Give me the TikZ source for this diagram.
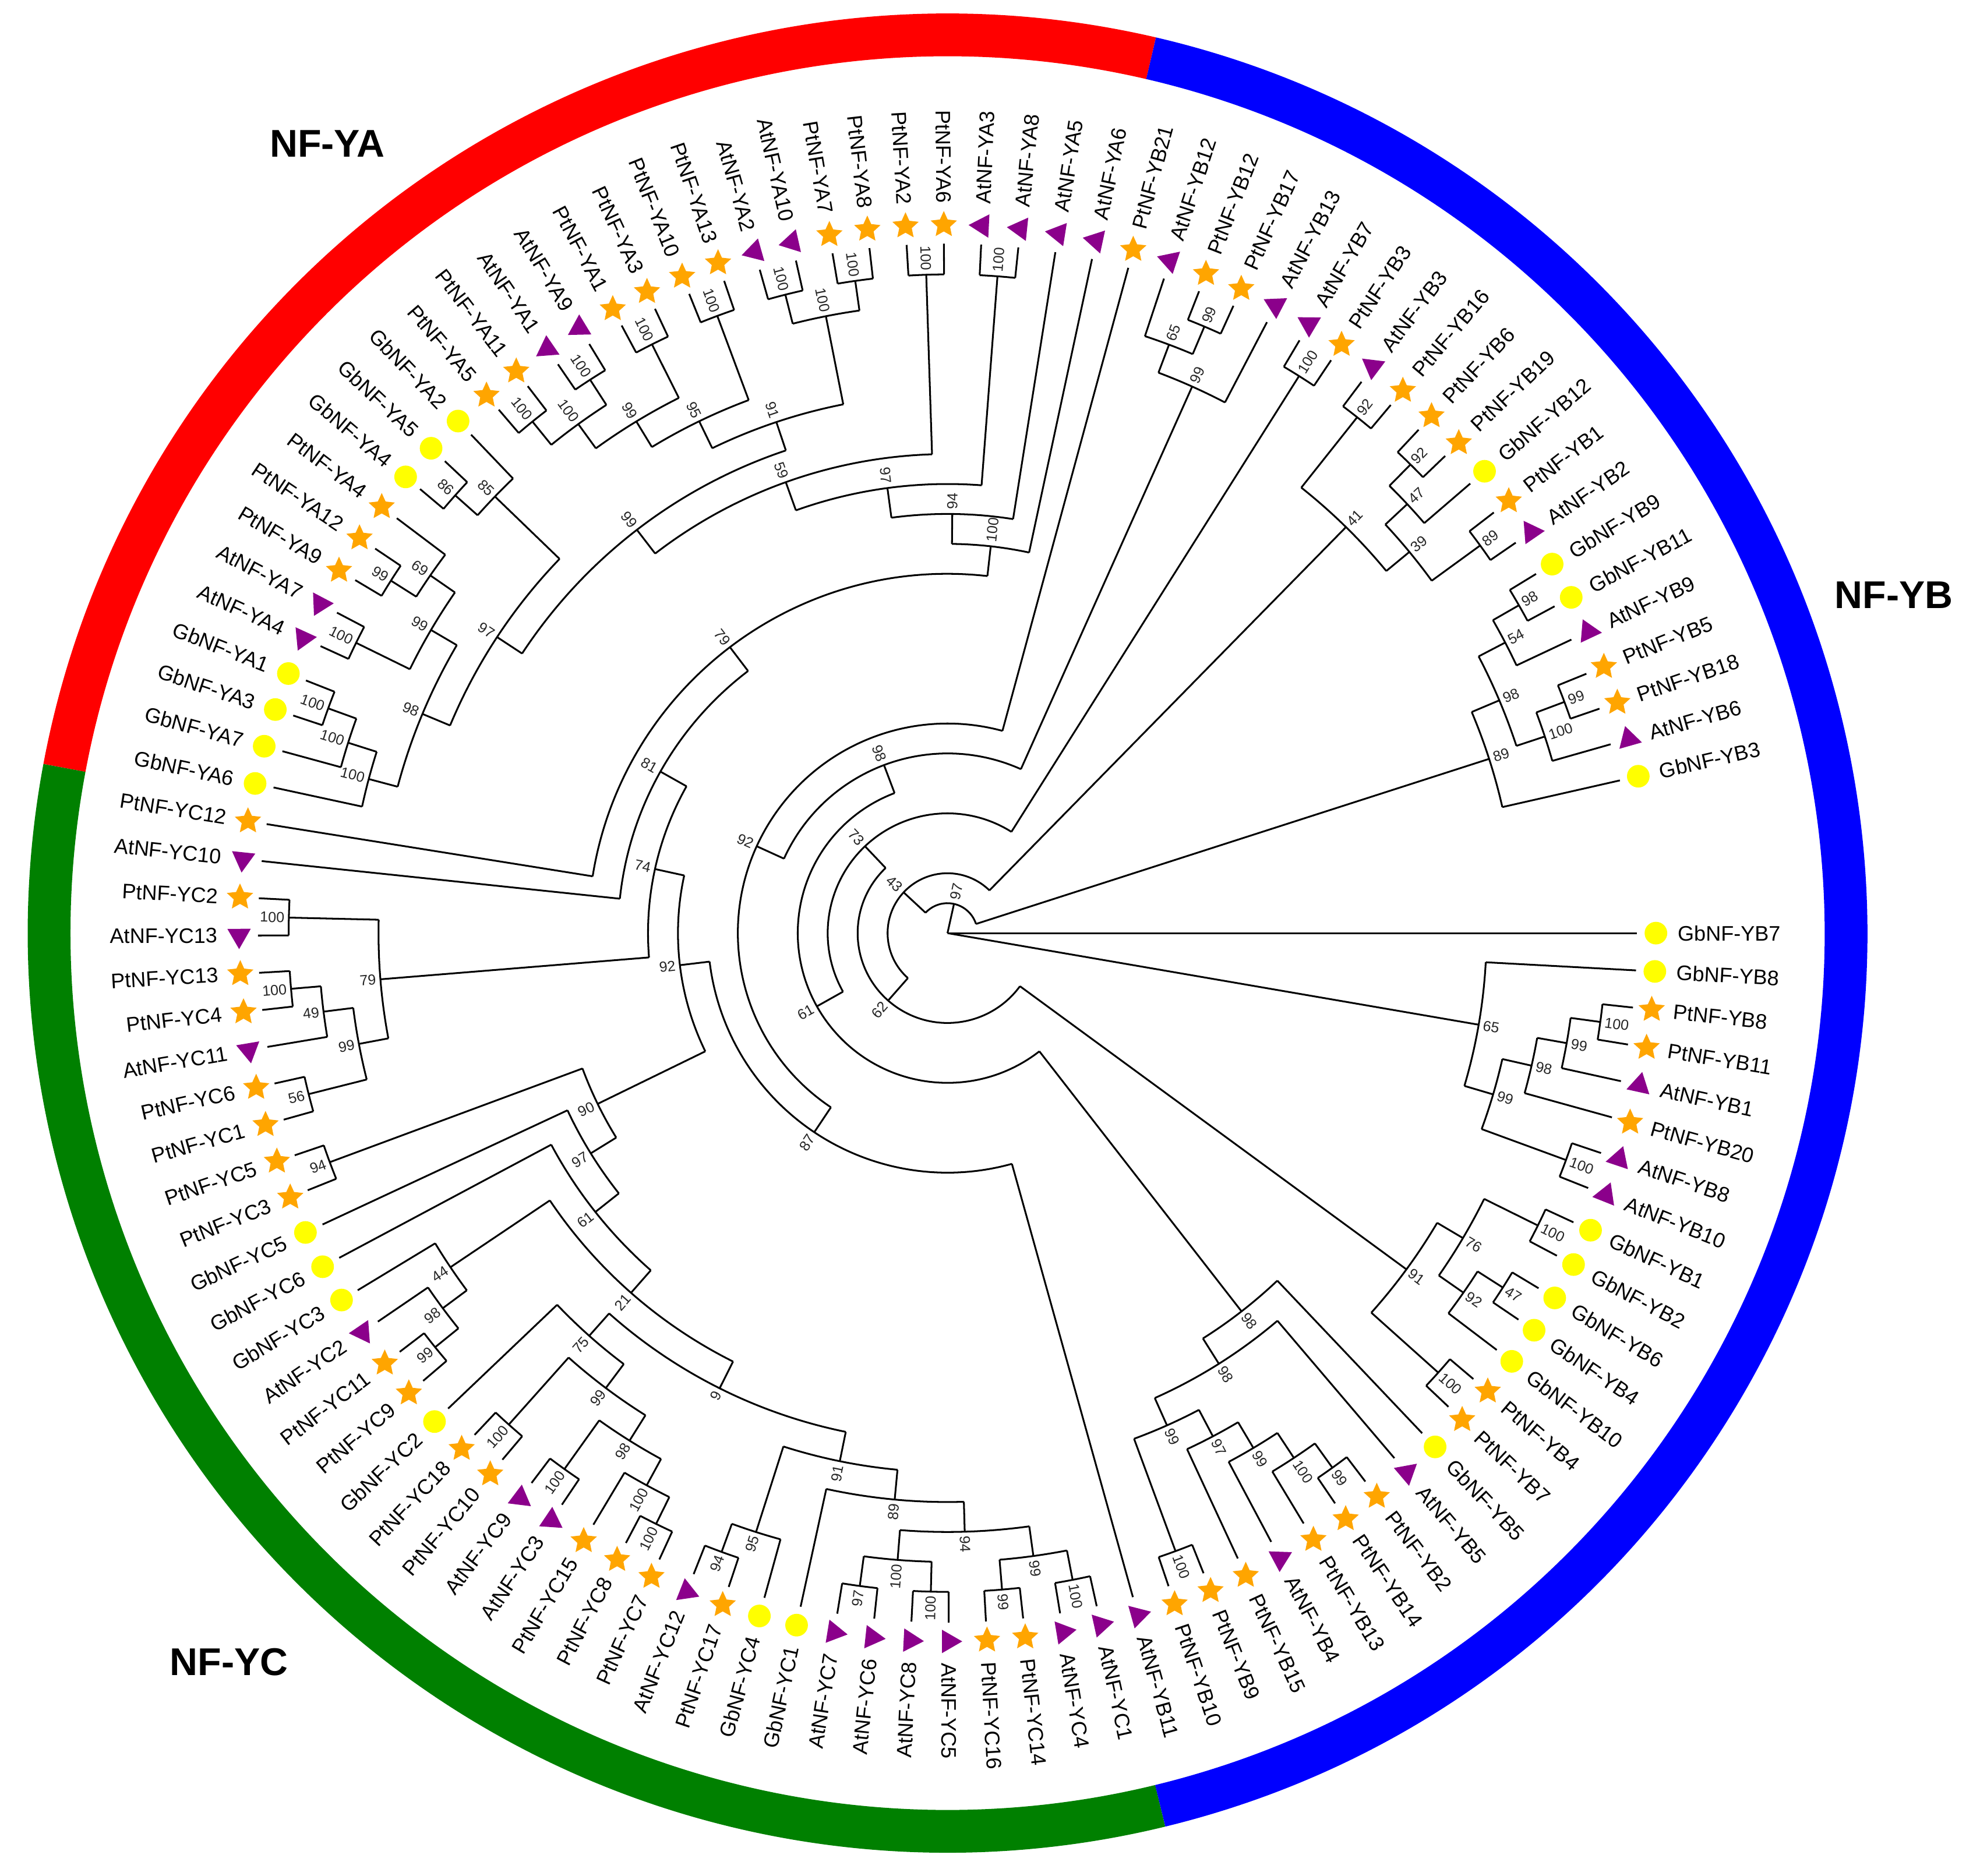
\documentclass[tikz,border=0pt]{standalone}
\usepackage{fontspec}
\setmainfont{Liberation Sans}
\usetikzlibrary{shapes.geometric}
\definecolor{ringred}{RGB}{255,0,0}
\definecolor{ringblue}{RGB}{0,0,255}
\definecolor{ringgreen}{RGB}{0,128,0}
\definecolor{mkyellow}{RGB}{255,255,0}
\definecolor{mkorange}{RGB}{255,165,0}
\definecolor{mkpurple}{RGB}{139,0,139}
\tikzset{
 br/.style={line width=0.8pt, black},
 lbl/.style={font=\fontsize{9.5}{11}\selectfont, inner sep=0pt},
 bs/.style={font=\fontsize{6.6}{8}\selectfont, inner sep=0.4pt, text=black!85},
 mkGb/.style={circle, fill=mkyellow, minimum size=0.36cm, inner sep=0pt},
 mkPt/.style={star, star points=5, star point ratio=2.1, fill=mkorange, minimum size=0.44cm, inner sep=0pt},
 mkAt/.style={regular polygon, regular polygon sides=3, fill=mkpurple, minimum size=0.43cm, inner sep=0pt, rotate=#1},
 grp/.style={font=\bfseries\fontsize{17.5}{20}\selectfont, inner sep=0pt},
 ring/.style={line width=0.68cm},
}
\newcommand\lf[4]{%
  \pgfmathsetmacro\lfA{-3.1*#1}%
  \pgfmathsetmacro\lfR{23.8*#2}%
  \draw[br] (\lfA:\lfR) -- (\lfA:548);
  \node[mk#3=\lfA] (m#1) at (\lfA:563) {};
  \pgfmathtruncatemacro\lfS{cos(\lfA)>=0 ? 1 : 0}%
  \ifnum\lfS=1
    \node[lbl, anchor=west, rotate=\lfA] (t#1) at (\lfA:580) {#4};
  \else
    \pgfmathsetmacro\lfB{\lfA+180}%
    \node[lbl, anchor=east, rotate=\lfB] (t#1) at (\lfA:580) {#4};
  \fi
}
\newcommand\cl[5]{%
  \pgfmathsetmacro\clA{-3.1*(#1)}%
  \pgfmathsetmacro\clB{-3.1*(#2)}%
  \pgfmathsetmacro\clM{(\clA+\clB)/2}%
  \pgfmathsetmacro\clR{23.8*#3}%
  \pgfmathsetmacro\clP{23.8*#4}%
  \draw[br] (\clA:\clR) arc[start angle=\clA, end angle=\clB, radius=\clR];
  \draw[br] (\clM:\clP) -- (\clM:\clR);
  \pgfmathsetmacro\clL{\clR+2.5}%
  \pgfmathtruncatemacro\clS{cos(\clM)>=0 ? 1 : 0}%
  \ifnum\clS=1
    \node[bs, anchor=west, rotate=\clM] at (\clM:\clL) {#5};
  \else
    \pgfmathsetmacro\clC{\clM+180}%
    \node[bs, anchor=east, rotate=\clC] at (\clM:\clL) {#5};
  \fi
}
\begin{document}
\begin{tikzpicture}[x=0.02cm,y=0.02cm]
\fill[white] (-753,-749.3) rectangle (815,741.7);
\useasboundingbox (-753,-749.3) rectangle (815,741.7);
% ring
\draw[ring, ringred] (76.9:714) arc[start angle=76.9, end angle=169.4, radius=714];
\draw[ring, ringgreen] (169.4:714) arc[start angle=169.4, end angle=283.7, radius=714];
\draw[ring, ringblue] (283.7:714) arc[start angle=283.7, end angle=436.9, radius=714];
\node[grp] (gA) at (-493,627.7) {NF-YA};
\node[grp] (gB) at (752,268.7) {NF-YB};
\node[grp] (gC) at (-571,-579.3) {NF-YC};
% internal nodes
\cl{1}{5.3125}{18}{0}{65}
\cl{4.125}{6.5}{19}{18}{99}
\cl{3.25}{5}{20}{19}{98}
\cl{2.5}{4}{21}{20}{99}
\cl{2}{3}{22}{21}{100}
\cl{6}{7}{22}{19}{100}
\cl{71.9057}{110.375}{1}{0}{97}
\cl{108.75}{112}{19}{1}{89}
\cl{107.25}{110.25}{20}{19}{98}
\cl{106.5}{108}{21}{20}{54}
\cl{106}{107}{22}{21}{98}
\cl{109.5}{111}{21}{20}{100}
\cl{109}{110}{22}{21}{99}
\cl{42.3738}{101.4375}{2}{1}{43}
\cl{99.5}{103.375}{19}{2}{41}
\cl{99}{100}{22}{19}{92}
\cl{102.25}{104.5}{20}{19}{39}
\cl{101.5}{103}{21}{20}{47}
\cl{101}{102}{22}{21}{92}
\cl{104}{105}{22}{20}{89}
\cl{11.6875}{73.0601}{3}{2}{62}
\cl{9.875}{13.5}{19}{3}{91}
\cl{8.5}{11.25}{20}{19}{76}
\cl{8}{9}{22}{20}{100}
\cl{10.5}{12}{21}{20}{92}
\cl{10}{11}{22}{21}{47}
\cl{13}{14}{22}{19}{100}
\cl{48.6202}{97.5}{4}{3}{73}
\cl{97}{98}{22}{4}{100}
\cl{16.8203}{80.4201}{5}{4}{61}
\cl{15}{18.6406}{16}{5}{98}
\cl{16}{21.2813}{17}{16}{98}
\cl{20.0625}{22.5}{18}{17}{99}
\cl{19.125}{21}{19}{18}{97}
\cl{18.25}{20}{20}{19}{99}
\cl{17.5}{19}{21}{20}{100}
\cl{17}{18}{22}{21}{99}
\cl{22}{23}{22}{18}{100}
\cl{65.9652}{94.875}{6}{5}{98}
\cl{93.75}{96}{20}{6}{99}
\cl{93}{94.5}{21}{20}{65}
\cl{94}{95}{22}{21}{99}
\cl{39.9304}{92}{7}{6}{92}
\cl{24}{55.8607}{8}{7}{87}
\cl{49.6709}{62.0505}{9}{8}{92}
\cl{56.5625}{67.5386}{10}{9}{74}
\cl{54.625}{58.5}{19}{10}{79}
\cl{58}{59}{22}{19}{100}
\cl{53.5}{55.75}{20}{19}{99}
\cl{53}{54}{22}{20}{56}
\cl{55}{56.5}{21}{20}{49}
\cl{56}{57}{22}{21}{100}
\cl{60}{75.0771}{11}{10}{81}
\cl{61}{89.1543}{12}{11}{79}
\cl{87.3086}{91}{13}{12}{100}
\cl{84.6172}{90}{14}{13}{94}
\cl{80.7344}{88.5}{15}{14}{97}
\cl{88}{89}{22}{15}{100}
\cl{74.9688}{86.5}{16}{15}{59}
\cl{86}{87}{22}{16}{100}
\cl{68.8125}{81.125}{17}{16}{99}
\cl{78.75}{83.5}{18}{17}{91}
\cl{82.5}{84.5}{21}{18}{100}
\cl{82}{83}{22}{21}{100}
\cl{84}{85}{22}{21}{100}
\cl{77}{80.5}{19}{18}{95}
\cl{80}{81}{22}{19}{100}
\cl{75.5}{78.5}{20}{19}{99}
\cl{78}{79}{22}{20}{100}
\cl{74.5}{76.5}{21}{20}{100}
\cl{74}{75}{22}{21}{100}
\cl{76}{77}{22}{21}{100}
\cl{65.375}{72.25}{18}{17}{97}
\cl{71.5}{73}{21}{18}{85}
\cl{71}{72}{22}{21}{86}
\cl{62.875}{67.875}{19}{18}{98}
\cl{66.5}{69.25}{20}{19}{99}
\cl{66}{67}{22}{20}{100}
\cl{68.5}{70}{21}{20}{69}
\cl{68}{69}{22}{21}{99}
\cl{62}{63.75}{20}{19}{100}
\cl{63}{64.5}{21}{20}{100}
\cl{64}{65}{22}{21}{100}
\cl{47.8418}{51.5}{13}{9}{90}
\cl{51}{52}{22}{13}{94}
\cl{45.6836}{50}{14}{13}{97}
\cl{42.3672}{49}{15}{14}{61}
\cl{37.6094}{47.125}{16}{15}{21}
\cl{46.25}{48}{20}{16}{44}
\cl{45.5}{47}{21}{20}{98}
\cl{45}{46}{22}{21}{99}
\cl{32.75}{42.4688}{17}{16}{9}
\cl{40.9375}{44}{18}{17}{75}
\cl{39.375}{42.5}{19}{18}{99}
\cl{42}{43}{22}{19}{100}
\cl{38.25}{40.5}{20}{19}{98}
\cl{40}{41}{22}{20}{100}
\cl{37.5}{39}{21}{20}{100}
\cl{37}{38}{22}{21}{100}
\cl{30.75}{34.75}{18}{17}{91}
\cl{34}{35.5}{21}{18}{95}
\cl{35}{36}{22}{21}{94}
\cl{28.5}{33}{19}{18}{89}
\cl{26.5}{30.5}{20}{19}{94}
\cl{29.5}{31.5}{21}{20}{100}
\cl{29}{30}{22}{21}{100}
\cl{31}{32}{22}{21}{97}
\cl{25.5}{27.5}{21}{20}{99}
\cl{25}{26}{22}{21}{100}
\cl{27}{28}{22}{21}{99}
% leaves
\lf{0}{0}{Gb}{GbNF-YB7}
\lf{1}{18}{Gb}{GbNF-YB8}
\lf{2}{22}{Pt}{PtNF-YB8}
\lf{3}{22}{Pt}{PtNF-YB11}
\lf{4}{21}{At}{AtNF-YB1}
\lf{5}{20}{Pt}{PtNF-YB20}
\lf{6}{22}{At}{AtNF-YB8}
\lf{7}{22}{At}{AtNF-YB10}
\lf{8}{22}{Gb}{GbNF-YB1}
\lf{9}{22}{Gb}{GbNF-YB2}
\lf{10}{22}{Gb}{GbNF-YB6}
\lf{11}{22}{Gb}{GbNF-YB4}
\lf{12}{21}{Gb}{GbNF-YB10}
\lf{13}{22}{Pt}{PtNF-YB4}
\lf{14}{22}{Pt}{PtNF-YB7}
\lf{15}{16}{Gb}{GbNF-YB5}
\lf{16}{17}{At}{AtNF-YB5}
\lf{17}{22}{Pt}{PtNF-YB2}
\lf{18}{22}{Pt}{PtNF-YB14}
\lf{19}{21}{Pt}{PtNF-YB13}
\lf{20}{20}{At}{AtNF-YB4}
\lf{21}{19}{Pt}{PtNF-YB15}
\lf{22}{22}{Pt}{PtNF-YB9}
\lf{23}{22}{Pt}{PtNF-YB10}
\lf{24}{8}{At}{AtNF-YB11}
\lf{25}{22}{At}{AtNF-YC1}
\lf{26}{22}{At}{AtNF-YC4}
\lf{27}{22}{Pt}{PtNF-YC14}
\lf{28}{22}{Pt}{PtNF-YC16}
\lf{29}{22}{At}{AtNF-YC5}
\lf{30}{22}{At}{AtNF-YC8}
\lf{31}{22}{At}{AtNF-YC6}
\lf{32}{22}{At}{AtNF-YC7}
\lf{33}{19}{Gb}{GbNF-YC1}
\lf{34}{21}{Gb}{GbNF-YC4}
\lf{35}{22}{Pt}{PtNF-YC17}
\lf{36}{22}{At}{AtNF-YC12}
\lf{37}{22}{Pt}{PtNF-YC7}
\lf{38}{22}{Pt}{PtNF-YC8}
\lf{39}{21}{Pt}{PtNF-YC15}
\lf{40}{22}{At}{AtNF-YC3}
\lf{41}{22}{At}{AtNF-YC9}
\lf{42}{22}{Pt}{PtNF-YC10}
\lf{43}{22}{Pt}{PtNF-YC18}
\lf{44}{18}{Gb}{GbNF-YC2}
\lf{45}{22}{Pt}{PtNF-YC9}
\lf{46}{22}{Pt}{PtNF-YC11}
\lf{47}{21}{At}{AtNF-YC2}
\lf{48}{20}{Gb}{GbNF-YC3}
\lf{49}{15}{Gb}{GbNF-YC6}
\lf{50}{14}{Gb}{GbNF-YC5}
\lf{51}{22}{Pt}{PtNF-YC3}
\lf{52}{22}{Pt}{PtNF-YC5}
\lf{53}{22}{Pt}{PtNF-YC1}
\lf{54}{22}{Pt}{PtNF-YC6}
\lf{55}{21}{At}{AtNF-YC11}
\lf{56}{22}{Pt}{PtNF-YC4}
\lf{57}{22}{Pt}{PtNF-YC13}
\lf{58}{22}{At}{AtNF-YC13}
\lf{59}{22}{Pt}{PtNF-YC2}
\lf{60}{11}{At}{AtNF-YC10}
\lf{61}{12}{Pt}{PtNF-YC12}
\lf{62}{20}{Gb}{GbNF-YA6}
\lf{63}{21}{Gb}{GbNF-YA7}
\lf{64}{22}{Gb}{GbNF-YA3}
\lf{65}{22}{Gb}{GbNF-YA1}
\lf{66}{22}{At}{AtNF-YA4}
\lf{67}{22}{At}{AtNF-YA7}
\lf{68}{22}{Pt}{PtNF-YA9}
\lf{69}{22}{Pt}{PtNF-YA12}
\lf{70}{21}{Pt}{PtNF-YA4}
\lf{71}{22}{Gb}{GbNF-YA4}
\lf{72}{22}{Gb}{GbNF-YA5}
\lf{73}{21}{Gb}{GbNF-YA2}
\lf{74}{22}{Pt}{PtNF-YA5}
\lf{75}{22}{Pt}{PtNF-YA11}
\lf{76}{22}{At}{AtNF-YA1}
\lf{77}{22}{At}{AtNF-YA9}
\lf{78}{22}{Pt}{PtNF-YA1}
\lf{79}{22}{Pt}{PtNF-YA3}
\lf{80}{22}{Pt}{PtNF-YA10}
\lf{81}{22}{Pt}{PtNF-YA13}
\lf{82}{22}{At}{AtNF-YA2}
\lf{83}{22}{At}{AtNF-YA10}
\lf{84}{22}{Pt}{PtNF-YA7}
\lf{85}{22}{Pt}{PtNF-YA8}
\lf{86}{22}{Pt}{PtNF-YA2}
\lf{87}{22}{Pt}{PtNF-YA6}
\lf{88}{22}{At}{AtNF-YA3}
\lf{89}{22}{At}{AtNF-YA8}
\lf{90}{14}{At}{AtNF-YA5}
\lf{91}{13}{At}{AtNF-YA6}
\lf{92}{7}{Pt}{PtNF-YB21}
\lf{93}{21}{At}{AtNF-YB12}
\lf{94}{22}{Pt}{PtNF-YB12}
\lf{95}{22}{Pt}{PtNF-YB17}
\lf{96}{20}{At}{AtNF-YB13}
\lf{97}{22}{At}{AtNF-YB7}
\lf{98}{22}{Pt}{PtNF-YB3}
\lf{99}{22}{At}{AtNF-YB3}
\lf{100}{22}{Pt}{PtNF-YB16}
\lf{101}{22}{Pt}{PtNF-YB6}
\lf{102}{22}{Pt}{PtNF-YB19}
\lf{103}{21}{Gb}{GbNF-YB12}
\lf{104}{22}{Pt}{PtNF-YB1}
\lf{105}{22}{At}{AtNF-YB2}
\lf{106}{22}{Gb}{GbNF-YB9}
\lf{107}{22}{Gb}{GbNF-YB11}
\lf{108}{21}{At}{AtNF-YB9}
\lf{109}{22}{Pt}{PtNF-YB5}
\lf{110}{22}{Pt}{PtNF-YB18}
\lf{111}{21}{At}{AtNF-YB6}
\lf{112}{19}{Gb}{GbNF-YB3}
\end{tikzpicture}
\end{document}
